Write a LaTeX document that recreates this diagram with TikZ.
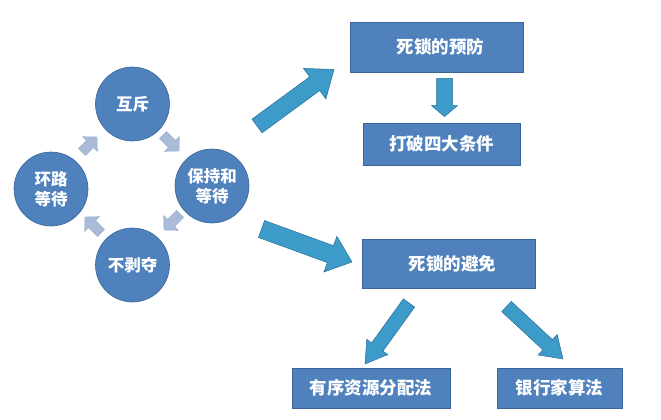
\documentclass[tikz,border=0pt]{standalone}
\usepackage{fontspec}
\newfontfamily\cjk{Noto Sans CJK SC}
\usetikzlibrary{calc}
\definecolor{nodeblue}{HTML}{4F81BD}
\definecolor{nodeedge}{HTML}{3A6596}
\definecolor{bigarrow}{HTML}{3C9BC9}
\definecolor{bigedge}{HTML}{2B7199}
\definecolor{smallarrow}{HTML}{A9BBD9}
\definecolor{smalledge}{HTML}{98ABCB}
\tikzset{
  circnode/.style={circle, fill=nodeblue, draw=nodeedge, line width=0.6pt,
    minimum size=74pt, inner sep=0pt, text=white, align=center,
    font=\cjk\bfseries\fontsize{16.5pt}{20pt}\selectfont},
  boxnode/.style={rectangle, fill=nodeblue, draw=nodeedge, line width=0.8pt,
    inner sep=0pt, text=white,
    font=\cjk\bfseries\fontsize{17.5pt}{20pt}\selectfont},
  bigarr/.style={fill=bigarrow, draw=bigedge, line width=0.5pt, line join=miter},
  smallarr/.style={fill=smallarrow, draw=smalledge, line width=0.4pt, line join=round},
}
% #1 style, #2 tail, #3 tip, #4 shaft half width, #5 head half width, #6 head length
\newcommand\fatarrow[6][]{%
  \coordinate (fa-n) at ($(#3)!#6!(#2)$);
  \draw[#1] ($(#2)!#4!90:(#3)$) -- ($(fa-n)!#4!90:(#3)$) -- ($(fa-n)!#5!90:(#3)$)
    -- (#3) -- ($(fa-n)!#5!-90:(#3)$) -- ($(fa-n)!#4!-90:(#3)$)
    -- ($(#2)!#4!-90:(#3)$) -- cycle;
}
\begin{document}
\begin{tikzpicture}[x=1pt,y=-1pt]
\useasboundingbox (0,0) rectangle (661,420);
\fill[white] (0,0) rectangle (661,420);

% circles
\node[circnode] (huchi) at (132.5,104) {互斥};
\node[circnode] (baochi) at (212,186) {保持和\\等待};
\node[circnode] (huanlu) at (51,189) {环路\\等待};
\node[circnode] (bubo) at (132.5,265) {不剥夺};

% small cycle arrows
\coordinate (s1t) at (82,152); \coordinate (s1h) at (97,137);
\coordinate (s2t) at (163,135); \coordinate (s2h) at (179,151);
\coordinate (s3t) at (180,214); \coordinate (s3h) at (164,230);
\coordinate (s4t) at (101,233); \coordinate (s4h) at (85,217);
\fatarrow[smallarr]{s1t}{s1h}{5pt}{10.5pt}{10pt}
\fatarrow[smallarr]{s2t}{s2h}{5pt}{10.5pt}{10pt}
\fatarrow[smallarr]{s3t}{s3h}{5pt}{10.5pt}{10pt}
\fatarrow[smallarr]{s4t}{s4h}{5pt}{10.5pt}{10pt}

% boxes
\node[boxnode, minimum width=173pt, minimum height=50pt] (yufang) at (436.5,47) {\hspace*{8pt}死锁的预防};
\node[boxnode, minimum width=157pt, minimum height=42pt] (dapo) at (441.5,144) {打破四大条件};
\node[boxnode, minimum width=173pt, minimum height=49pt] (bimian) at (448.5,263.5) {\hspace*{8pt}死锁的避免};
\node[boxnode, minimum width=158pt, minimum height=40pt] (youxu) at (371,388) {有序资源分配法};
\node[boxnode, minimum width=125pt, minimum height=40pt] (yinhang) at (559.5,388) {银行家算法};

% big arrows
\coordinate (a1t) at (257,126); \coordinate (a1h) at (334,69.5);
\fatarrow[bigarr]{a1t}{a1h}{8.5pt}{19pt}{24pt}
\coordinate (a2t) at (261.5,229); \coordinate (a2h) at (352,262);
\fatarrow[bigarr]{a2t}{a2h}{9pt}{19pt}{23pt}
\coordinate (a3t) at (409,303); \coordinate (a3h) at (365,364);
\fatarrow[bigarr]{a3t}{a3h}{7pt}{13pt}{21pt}
\coordinate (a4t) at (506.5,306.5); \coordinate (a4h) at (563,359);
\fatarrow[bigarr]{a4t}{a4h}{7pt}{14pt}{21pt}
\coordinate (a5t) at ($(yufang.south)+(8,6)$); \coordinate (a5h) at ($(dapo.north)+(3,-6)$);
\fatarrow[bigarr]{a5t}{a5h}{8pt}{13pt}{11pt}
\end{tikzpicture}
\end{document}
